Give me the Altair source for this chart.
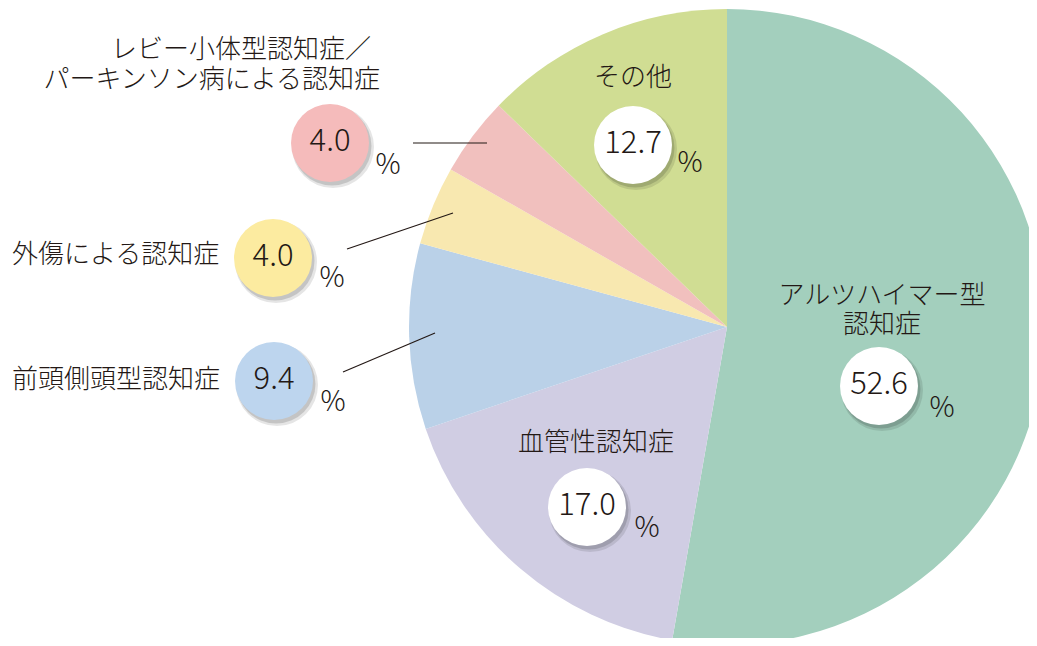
import altair as alt
import pandas as pd

# ---- data ----
categories = ["アルツハイマー型認知症", "血管性認知症", "前頭側頭型認知症",
              "外傷による認知症", "レビー小体型認知症／パーキンソン病による認知症", "その他"]
values = [52.6, 17.0, 9.4, 4.0, 4.0, 12.7]
value_labels = ["52.6", "17.0", "9.4", "4.0", "4.0", "12.7"]
slice_colors = ["#A3CFBD", "#D0CDE3", "#BAD1E8", "#F8E8B0", "#F1C0BE", "#D0DD93"]
badge_colors = ["#FFFFFF", "#FFFFFF", "#BDD5EE", "#FCEBA0", "#F5BBBB", "#FFFFFF"]

# ---- layout (pixel positions, chart coordinates) ----
CX, CY, R = 719, 319, 318
badge_x = [871, 579, 266, 265, 322, 625]
badge_y = [378, 499, 373, 250, 135, 137]
pct_x = [934, 639, 325, 324, 380, 682]
pct_y = [401, 521, 395, 271, 158, 156]

name_lines = ["アルツハイマー型", "認知症", "血管性認知症", "前頭側頭型認知症",
              "外傷による認知症", "レビー小体型認知症／", "パーキンソン病による認知症", "その他"]
name_x = [874, 874, 588, 4, 4, 363, 372, 625]
name_y = [288, 317, 435, 372, 247, 42, 72, 70]
name_align = ["center", "center", "center", "left", "left", "right", "right", "center"]

leader_x = [405, 339, 335]
leader_y = [135, 241, 364]
leader_x2 = [479, 445, 427]
leader_y2 = [135, 205, 325]

FONT = "Noto Sans CJK JP"
INK = "#231815"
BADGE_SIZE = 78 * 78

pie_df = pd.DataFrame({"cat": categories, "value": values, "order": list(range(len(values)))})
badge_df = pd.DataFrame({"cat": categories, "label": value_labels, "fill": badge_colors,
                         "x": badge_x, "y": badge_y, "px": pct_x, "py": pct_y})
name_df = pd.DataFrame({"text": name_lines, "x": name_x, "y": name_y, "align": name_align})
lead_df = pd.DataFrame({"x": leader_x, "y": leader_y, "x2": leader_x2, "y2": leader_y2})

pie = alt.Chart(pie_df).mark_arc(outerRadius=R).encode(
    theta=alt.Theta("value:Q", stack=True),
    color=alt.Color("cat:N", scale=alt.Scale(domain=categories, range=slice_colors), legend=None),
    order=alt.Order("order:Q"),
    x=alt.value(CX),
    y=alt.value(CY),
)

base_b = alt.Chart(badge_df)
shadow1 = base_b.mark_point(shape="circle", filled=True, color="#000000", opacity=0.10,
                            size=82 * 82, xOffset=3, yOffset=4).encode(
    x=alt.X("x:Q", scale=None), y=alt.Y("y:Q", scale=None))
shadow2 = base_b.mark_point(shape="circle", filled=True, color="#000000", opacity=0.14,
                            size=79 * 79, xOffset=2, yOffset=3).encode(
    x=alt.X("x:Q", scale=None), y=alt.Y("y:Q", scale=None))
badges = base_b.mark_point(shape="circle", filled=True, opacity=1, size=BADGE_SIZE).encode(
    x=alt.X("x:Q", scale=None), y=alt.Y("y:Q", scale=None),
    fill=alt.Fill("fill:N", scale=None))
nums = base_b.mark_text(font=FONT, fontSize=31, fontWeight=300, color=INK, baseline="middle",
                        align="center", dy=-1).encode(
    x=alt.X("x:Q", scale=None), y=alt.Y("y:Q", scale=None), text="label:N")
pcts = base_b.mark_text(font=FONT, fontSize=28, fontWeight=300, color=INK, baseline="middle",
                        align="center").encode(
    x=alt.X("px:Q", scale=None), y=alt.Y("py:Q", scale=None), text=alt.value("%"))

leaders = alt.Chart(lead_df).mark_rule(color="#231815", strokeWidth=1.2).encode(
    x=alt.X("x:Q", scale=None), y=alt.Y("y:Q", scale=None),
    x2="x2:Q", y2="y2:Q")

name_layers = []
for a in ["left", "center", "right"]:
    name_layers.append(
        alt.Chart(name_df).transform_filter(alt.datum.align == a).mark_text(
            font=FONT, fontSize=26, fontWeight=300, color=INK, baseline="middle", align=a).encode(
            x=alt.X("x:Q", scale=None), y=alt.Y("y:Q", scale=None), text="text:N"))

chart = alt.layer(pie, leaders, shadow1, shadow2, badges, nums, pcts, *name_layers).properties(
    width=1021, height=630, padding=0, autosize=alt.AutoSizeParams(type="none"),
    background="#FFFFFF",
).configure_view(stroke=None)

chart.save("out.html", embed_options={"renderer": "svg", "actions": False})
